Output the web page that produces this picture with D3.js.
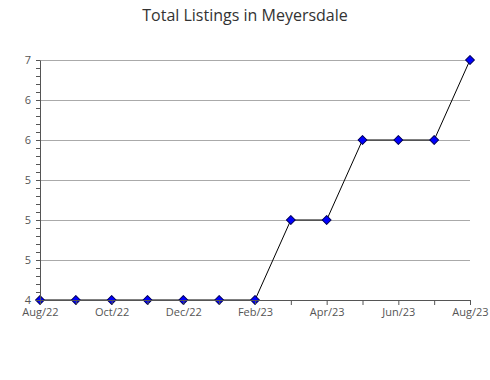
<!DOCTYPE html>
<html>
<head>
<meta charset="utf-8">
<script src="https://cdn.jsdelivr.net/npm/d3@7"></script>
<style>
  body { margin: 0; background: #fff; }
  text { font-family: "Open Sans", "DejaVu Sans", sans-serif; }
</style>
</head>
<body>
<svg width="490" height="380"></svg>
<script>
// months on the x axis, one point per month
var months = ["Aug/22","Sep/22","Oct/22","Nov/22","Dec/22","Jan/23","Feb/23",
              "Mar/23","Apr/23","May/23","Jun/23","Jul/23","Aug/23"];
var listings = [4, 4, 4, 4, 4, 4, 4, 5, 5, 6, 6, 6, 7];
// y tick values and the (rounded) labels shown for them
var yTickValues = [4, 4.5, 5, 5.5, 6, 6.5, 7];
var yTickLabels = ["4", "5", "5", "5", "6", "6", "7"];

var svg = d3.select("svg"),
    width = +svg.attr("width"),
    height = +svg.attr("height");

var plotLeft = 40, plotRight = 470, plotTop = 60, plotBottom = 300;

var x = d3.scalePoint().domain(months).range([plotLeft, plotRight]);
var y = d3.scaleLinear().domain([4, 7]).range([plotBottom, plotTop]);

svg.append("text")
    .attr("x", width / 2)
    .attr("y", 21)
    .attr("text-anchor", "middle")
    .attr("font-size", 16)
    .attr("fill", "#333")
    .text("Total Listings in Meyersdale");

// grid lines
svg.append("g")
  .selectAll("line")
  .data(yTickValues.slice(1))
  .enter().append("line")
    .attr("x1", plotLeft).attr("x2", plotRight)
    .attr("y1", function(d) { return Math.round(y(d)) + 0.5; })
    .attr("y2", function(d) { return Math.round(y(d)) + 0.5; })
    .attr("stroke", "#aaa")
    .attr("stroke-width", 1);

// the line
var line = d3.line()
    .x(function(d, i) { return x(months[i]); })
    .y(function(d) { return y(d); });

svg.append("path")
    .datum(listings)
    .attr("d", line)
    .attr("fill", "none")
    .attr("stroke", "#000")
    .attr("stroke-width", 1);

// markers
svg.append("g")
  .selectAll("path")
  .data(listings)
  .enter().append("path")
    .attr("d", d3.symbol().type(d3.symbolSquare).size(40))
    .attr("transform", function(d, i) {
      return "translate(" + x(months[i]) + "," + y(d) + ") rotate(45)";
    })
    .attr("fill", "#0000ff")
    .attr("stroke", "#000055")
    .attr("stroke-width", 1)
    .attr("stroke-linejoin", "round");

// y axis, minor ticks every 0.1
var yMinor = d3.range(0, 31).map(function(i) { return 4 + i * 0.1; });
var yAxis = svg.append("g")
    .attr("transform", "translate(" + plotLeft + ",0)")
    .call(d3.axisLeft(y).tickValues(yMinor).tickSize(4).tickSizeOuter(0).tickFormat(""));

yAxis.select(".domain").attr("stroke", "#555");
yAxis.selectAll(".tick line").attr("stroke", "#555");

svg.append("g")
  .selectAll("text")
  .data(yTickValues)
  .enter().append("text")
    .attr("x", 31)
    .attr("y", function(d) { return y(d) + 4; })
    .attr("text-anchor", "end")
    .attr("font-size", 11)
    .attr("fill", "#555")
    .text(function(d, i) { return yTickLabels[i]; });

// x axis, label every other month
var xAxis = svg.append("g")
    .attr("transform", "translate(0," + plotBottom + ")")
    .call(d3.axisBottom(x).tickSize(5).tickSizeOuter(0).tickPadding(3)
      .tickFormat(function(d, i) { return i % 2 === 0 ? d : ""; }));

xAxis.select(".domain").attr("stroke", "#555");
xAxis.selectAll(".tick line").attr("stroke", "#555");
xAxis.selectAll(".tick text")
    .attr("font-size", 11)
    .attr("fill", "#555")
    .style("font-family", "'Open Sans', sans-serif");
</script>
</body>
</html>
